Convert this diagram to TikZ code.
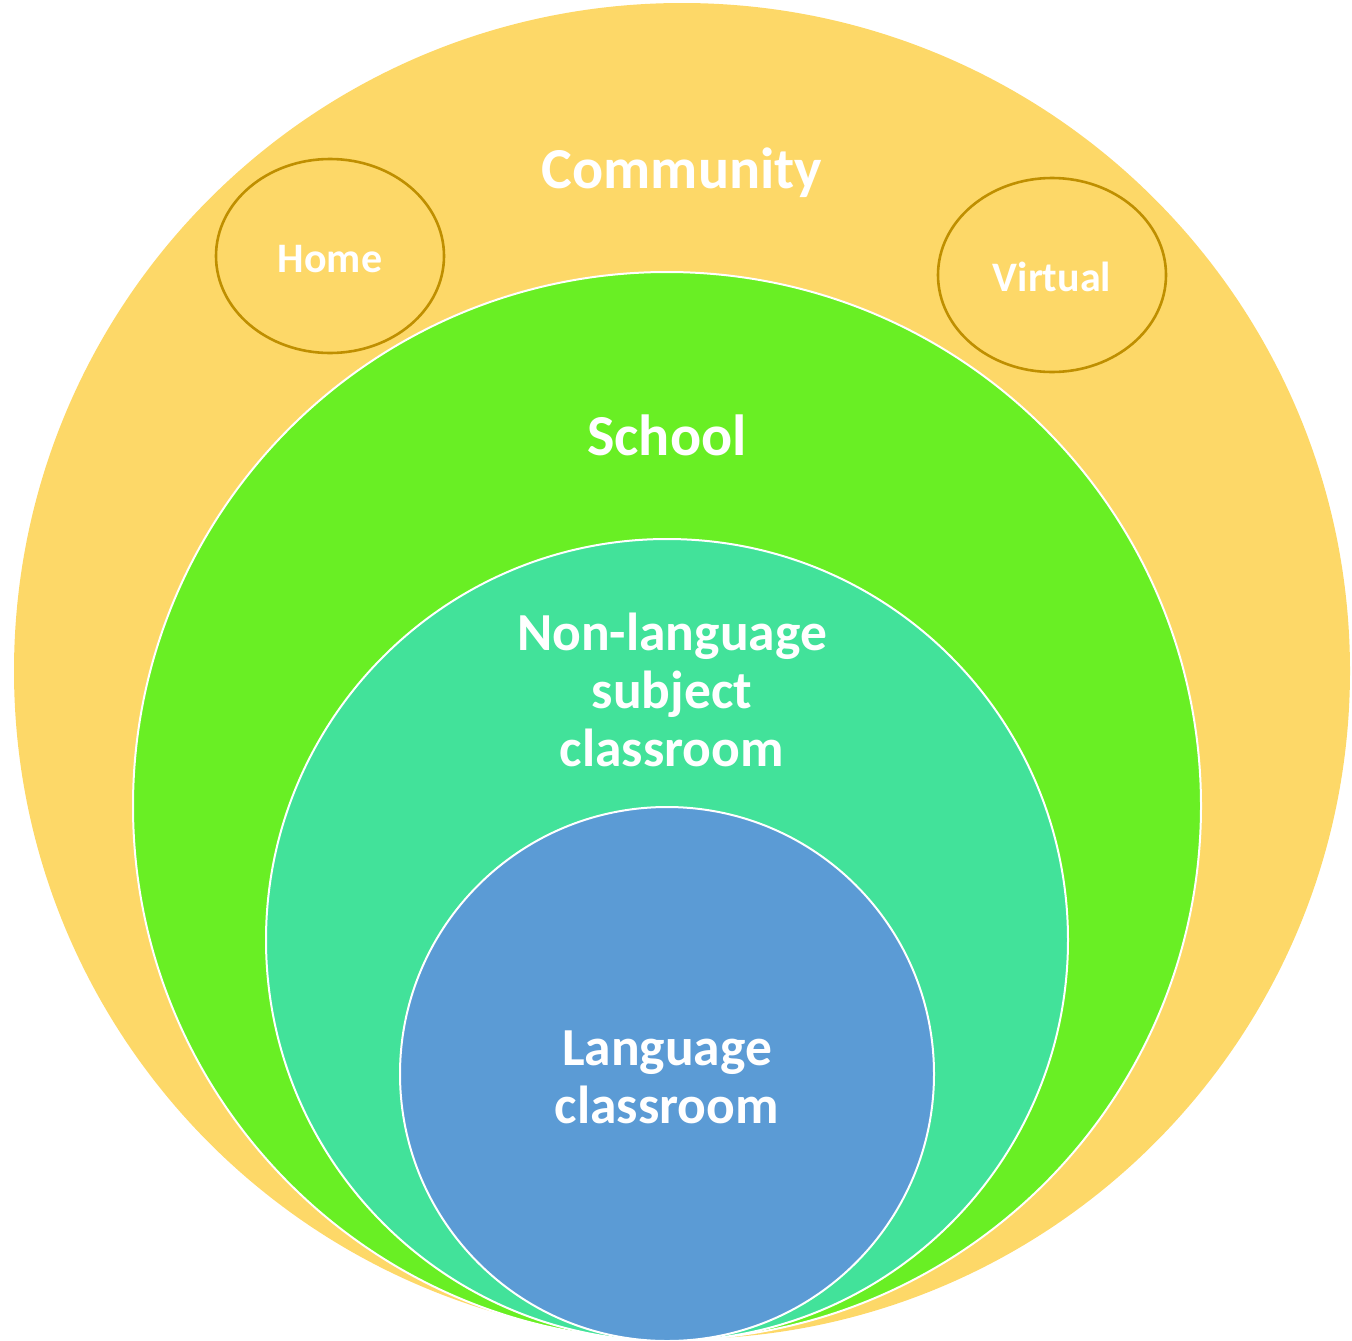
\documentclass[tikz,border=0pt]{standalone}
\usepackage{fontspec}
\setmainfont{Carlito}
\usepackage{xcolor}
\usepackage{tikz}
\usetikzlibrary{shapes.geometric}
\definecolor{commfill}{HTML}{FDD868}
\definecolor{schoolfill}{HTML}{69EF24}
\definecolor{nonlangfill}{HTML}{42E29A}
\definecolor{langfill}{HTML}{5B9BD5}
\definecolor{ringline}{HTML}{BF8F00}
\tikzset{
  ring/.style={draw=white, line width=2pt},
  subring/.style={draw=ringline, line width=2.6pt, fill=commfill},
  lbl/.style={text=white, font=\bfseries, align=center, inner sep=0pt},
  toplbl/.style={lbl, font=\bfseries\fontsize{58}{64}\selectfont},
  biglbl/.style={lbl, font=\bfseries\fontsize{53.5}{58}\selectfont},
  smalllbl/.style={lbl, font=\bfseries\fontsize{42}{48}\selectfont}
}

\begin{document}
\begin{tikzpicture}[x=1pt, y=-1pt]
\useasboundingbox (0,0) rectangle (1352,1341);

% nested settings
\fill[commfill] (682,671) circle (668);
\draw[subring] (330,256) ellipse (114 and 97);
\draw[subring] (1052,275) ellipse (114 and 97);
\filldraw[ring, fill=schoolfill] (667,806) circle (534);
\filldraw[ring, fill=nonlangfill] (667,940) circle (401);
\filldraw[ring, fill=langfill] (667,1074) circle (267);

\node[toplbl] (community) at (682,173) {Community};
\node[smalllbl] (home) at (330,259) {Home};
\node[smalllbl] (virtual) at (1052,277) {Virtual};
\node[toplbl] (school) at (667,435) {School};
\node[biglbl] (nonlang) at (672,690) {Non-language\\ subject\\ classroom};
\node[biglbl] (lang) at (667,1077) {Language\\ classroom};
\end{tikzpicture}
\end{document}
